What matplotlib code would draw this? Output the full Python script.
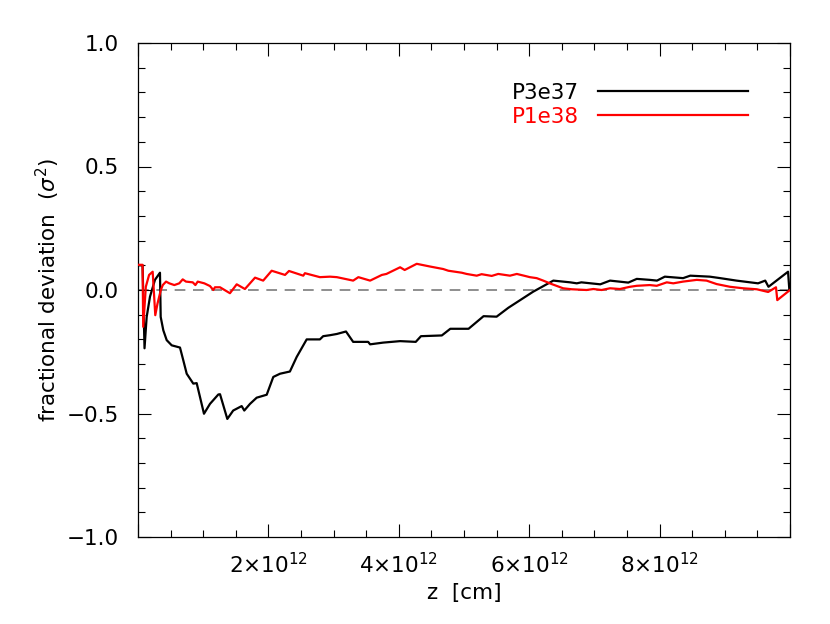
import matplotlib
matplotlib.use("Agg")
import matplotlib.pyplot as plt
from matplotlib.ticker import MultipleLocator, FixedLocator, FixedFormatter
import numpy as np

# ---- data (z in units of 1e12 cm) ----
z_p3e37 = [0.01, 0.07, 0.10, 0.133, 0.184, 0.26, 0.337, 0.348, 0.388, 0.44, 0.517,
           0.644, 0.695, 0.747, 0.848, 0.90, 1.012, 1.104, 1.232, 1.258, 1.37, 1.46,
           1.59, 1.63, 1.718, 1.82, 1.974, 2.075, 2.178, 2.33, 2.434, 2.587, 2.79,
           2.84, 2.945, 3.05, 3.19, 3.30, 3.53, 3.56, 3.76, 4.02, 4.26, 4.34, 4.66,
           4.79, 5.07, 5.30, 5.50, 5.68, 6.06, 6.37, 6.63, 6.73, 6.80, 7.09, 7.24,
           7.52, 7.65, 7.85, 7.96, 8.08, 8.36, 8.47, 8.77, 8.93, 9.18, 9.51, 9.62,
           9.67, 9.97, 9.99]
dev_p3e37 = [0.10, 0.10, -0.236, -0.109, -0.027, 0.041, 0.070, -0.109, -0.163, -0.203,
             -0.224, -0.233, -0.285, -0.339, -0.379, -0.377, -0.501, -0.461, -0.423,
             -0.422, -0.522, -0.488, -0.470, -0.488, -0.461, -0.436, -0.424, -0.352,
             -0.339, -0.330, -0.271, -0.200, -0.200, -0.187, -0.183, -0.178, -0.168,
             -0.210, -0.210, -0.220, -0.213, -0.207, -0.210, -0.187, -0.184, -0.157,
             -0.157, -0.106, -0.108, -0.072, -0.007, 0.038, 0.031, 0.027, 0.031,
             0.023, 0.038, 0.030, 0.045, 0.041, 0.038, 0.054, 0.048, 0.058, 0.054,
             0.048, 0.038, 0.027, 0.038, 0.013, 0.074, 0.0]

z_p1e38 = [0.01, 0.07, 0.08, 0.12, 0.17, 0.225, 0.265, 0.30, 0.35, 0.38, 0.43, 0.48,
           0.557, 0.633, 0.686, 0.736, 0.84, 0.88, 0.916, 1.017, 1.104, 1.155, 1.18,
           1.258, 1.41, 1.514, 1.64, 1.795, 1.92, 2.05, 2.255, 2.316, 2.535, 2.56,
           2.79, 2.945, 3.05, 3.30, 3.38, 3.56, 3.74, 3.81, 4.02, 4.09, 4.275, 4.48,
           4.68, 4.76, 4.965, 5.04, 5.195, 5.27, 5.425, 5.525, 5.705, 5.81, 5.935,
           6.01, 6.115, 6.215, 6.345, 6.52, 6.65, 6.88, 6.985, 7.11, 7.24, 7.39,
           7.546, 7.65, 7.85, 7.955, 8.11, 8.21, 8.36, 8.57, 8.72, 8.875, 9.08, 9.28,
           9.49, 9.665, 9.785, 9.805, 10.0]
dev_p1e38 = [0.102, 0.102, -0.149, 0.013, 0.061, 0.074, -0.102, -0.054, 0.0, 0.020,
             0.034, 0.027, 0.020, 0.027, 0.043, 0.034, 0.031, 0.020, 0.034, 0.027,
             0.016, 0.0, 0.011, 0.011, -0.013, 0.023, 0.004, 0.050, 0.038, 0.078,
             0.061, 0.077, 0.058, 0.068, 0.052, 0.054, 0.052, 0.038, 0.052, 0.038,
             0.061, 0.065, 0.092, 0.081, 0.106, 0.095, 0.085, 0.078, 0.070, 0.065,
             0.058, 0.064, 0.057, 0.065, 0.058, 0.065, 0.057, 0.052, 0.048, 0.038,
             0.024, 0.007, 0.003, 0.0, 0.004, 0.0, 0.007, 0.004, 0.013, 0.017, 0.020,
             0.017, 0.031, 0.027, 0.034, 0.041, 0.038, 0.024, 0.013, 0.007, 0.003,
             -0.008, 0.011, -0.041, 0.0]

labels = ["P3e37", "P1e38"]
colors = ["black", "#ff0000"]
x_tick_vals = [2e12, 4e12, 6e12, 8e12]
x_tick_labels = [r"2×10$\mathregular{^{12}}$", r"4×10$\mathregular{^{12}}$",
                 r"6×10$\mathregular{^{12}}$", r"8×10$\mathregular{^{12}}$"]

plt.rcParams["font.family"] = ["DejaVu Sans"]
plt.rcParams["mathtext.fontset"] = "dejavusans"

fig = plt.figure(figsize=(8.30, 6.24), dpi=100)
ax = fig.add_axes([138 / 830, 1 - 537 / 624, 652 / 830, 494 / 624])

ax.axhline(0, color="#707070", lw=1.1, dashes=(7, 5), zorder=1)

ax.plot(np.array(z_p3e37) * 1e12, dev_p3e37, color=colors[0], lw=1.6,
        label=labels[0], zorder=2)
ax.plot(np.array(z_p1e38) * 1e12, dev_p1e38, color=colors[1], lw=1.6,
        label=labels[1], zorder=3)

ax.set_xlim(0, 1e13)
ax.set_ylim(-1, 1)

fs = 15.5
ax.xaxis.set_major_locator(FixedLocator([0] + x_tick_vals + [1e13]))
ax.xaxis.set_major_formatter(FixedFormatter([""] + x_tick_labels + [""]))
ax.xaxis.set_minor_locator(MultipleLocator(0.5e12))
ax.yaxis.set_major_locator(MultipleLocator(0.5))
ax.yaxis.set_minor_locator(MultipleLocator(0.1))
ax.yaxis.set_major_formatter(matplotlib.ticker.FuncFormatter(
    lambda v, p: ("%.1f" % v).replace("-", "\u2212")))

ax.tick_params(which="both", direction="in", top=True, right=True, width=0.8,
               labelsize=fs, color="black")
ax.tick_params(which="major", length=9.4)
ax.tick_params(which="minor", length=4.7)
ax.tick_params(axis="y", pad=14)
ax.tick_params(axis="x", pad=11)

for s in ax.spines.values():
    s.set_linewidth(0.9)

ax.set_xlabel("z  [cm]", fontsize=fs, labelpad=4)
ax.set_ylabel(r"fractional deviation  ($\sigma^2$)", fontsize=fs, labelpad=3)

ax.legend(loc="upper right", bbox_to_anchor=(0.936, 0.92), frameon=False,
          markerfirst=False, handlelength=7.0, handletextpad=0.85,
          labelspacing=0.2, borderpad=0, borderaxespad=0, fontsize=fs,
          labelcolor="linecolor")

fig.savefig("out.png", dpi=100)
